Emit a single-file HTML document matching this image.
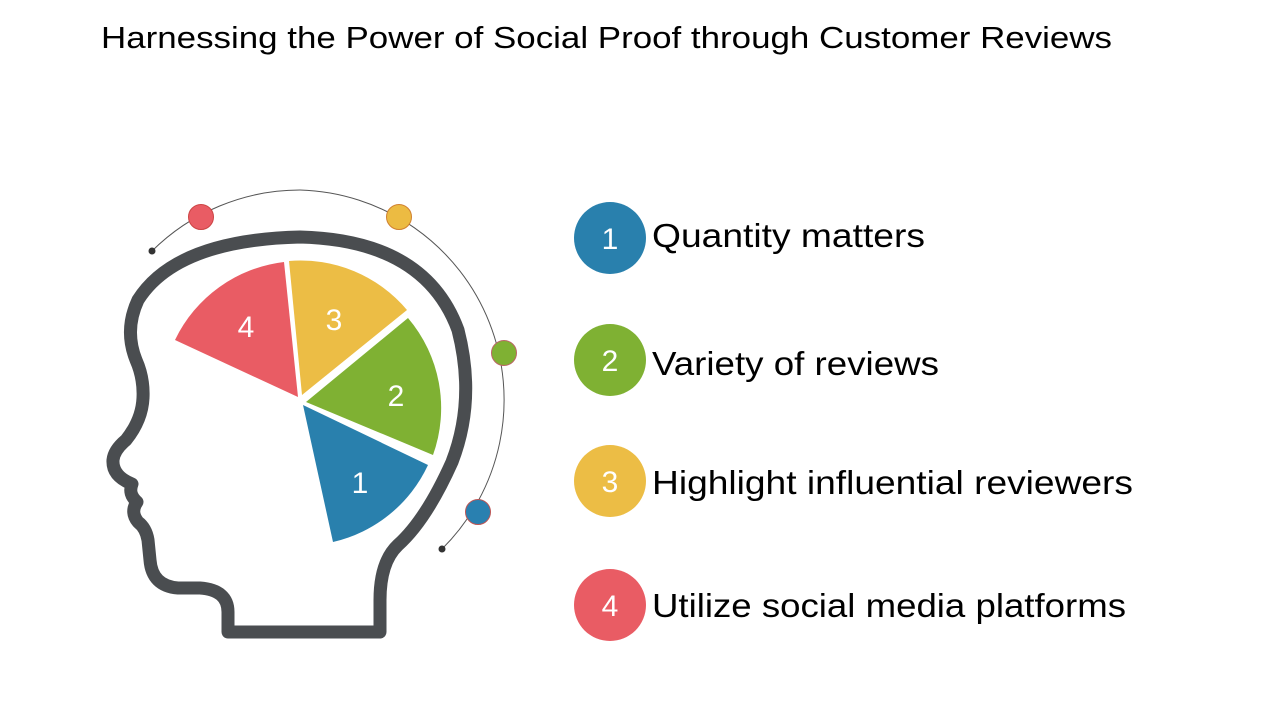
<!DOCTYPE html>
<html><head><meta charset="utf-8"><style>
html,body{margin:0;padding:0;background:#fff;width:1280px;height:720px;overflow:hidden}
svg{display:block}
</style></head><body>
<svg width="1280" height="720" viewBox="0 0 1280 720" xmlns="http://www.w3.org/2000/svg">
<text x="101" y="48" font-family="Liberation Sans, Arial, sans-serif" font-size="31" fill="#000" textLength="1011" lengthAdjust="spacingAndGlyphs">Harnessing the Power of Social Proof through Customer Reviews</text>

<!-- arc -->
<path d="M151.5,251.5 A210,210 0 0 1 300,190 A210,210 0 0 1 442,549" fill="none" stroke="#555" stroke-width="1"/>
<circle cx="152" cy="251" r="3.5" fill="#333"/>
<circle cx="442" cy="549" r="3.5" fill="#333"/>
<circle cx="201" cy="217" r="12.5" fill="#e95c64" stroke="#c44" stroke-width="1"/>
<circle cx="399" cy="217" r="12.5" fill="#ecbb42" stroke="#d08030" stroke-width="1"/>
<circle cx="504" cy="353" r="12.5" fill="#7fb133" stroke="#b66" stroke-width="1"/>
<circle cx="478" cy="512" r="12.5" fill="#2980b0" stroke="#b55" stroke-width="1"/>

<!-- head -->
<path d="M228,632 L228,612 Q228,590 200,588 L178,588 Q152,586 150,560 L148,540 Q146,528 138,522 Q130,512 137,502 Q128,494 132,484 Q112,476 113,460 Q114,450 126,440 Q142,420 143,398 Q144,378 136,360 Q124,330 138,300 Q176,240 300,237 Q425,240 458,330 Q476,400 452,462 Q426,520 398,545 Q380,562 380,600 L380,632 Z" fill="none" stroke="#4a4d50" stroke-width="13" stroke-linejoin="round"/>

<!-- pie -->
<path d="M303,405 L428,465 A139,139 0 0 1 333,542 Z" fill="#2980ad"/>
<path d="M306,402 L408,318 A139,139 0 0 1 433,455 Z" fill="#7fb133"/>
<path d="M302,395 L289,261 A139,139 0 0 1 407,310 Z" fill="#ecbd45"/>
<path d="M298,397 L175,340 A139,139 0 0 1 284,262 Z" fill="#e95c64"/>
<g font-family="Liberation Sans, Arial, sans-serif" font-size="30" fill="#fff" text-anchor="middle">
<text x="360" y="493">1</text>
<text x="396" y="406">2</text>
<text x="334" y="330">3</text>
<text x="246" y="337">4</text>
</g>

<!-- list -->
<circle cx="610" cy="238" r="36" fill="#2980ad"/>
<circle cx="610" cy="360" r="36" fill="#7fb133"/>
<circle cx="610" cy="481" r="36" fill="#ecbd45"/>
<circle cx="610" cy="605" r="36" fill="#e95c64"/>
<g font-family="Liberation Sans, Arial, sans-serif" font-size="30" fill="#fff" text-anchor="middle">
<text x="610" y="249">1</text>
<text x="610" y="371">2</text>
<text x="610" y="492">3</text>
<text x="610" y="616">4</text>
</g>
<g font-family="Liberation Sans, Carlito, sans-serif" font-size="33" fill="#000">
<text x="652" y="247" textLength="273" lengthAdjust="spacingAndGlyphs">Quantity matters</text>
<text x="652" y="375" textLength="287" lengthAdjust="spacingAndGlyphs">Variety of reviews</text>
<text x="652" y="494" textLength="481" lengthAdjust="spacingAndGlyphs">Highlight influential reviewers</text>
<text x="652" y="617" textLength="474" lengthAdjust="spacingAndGlyphs">Utilize social media platforms</text>
</g>
</svg>
</body></html>
